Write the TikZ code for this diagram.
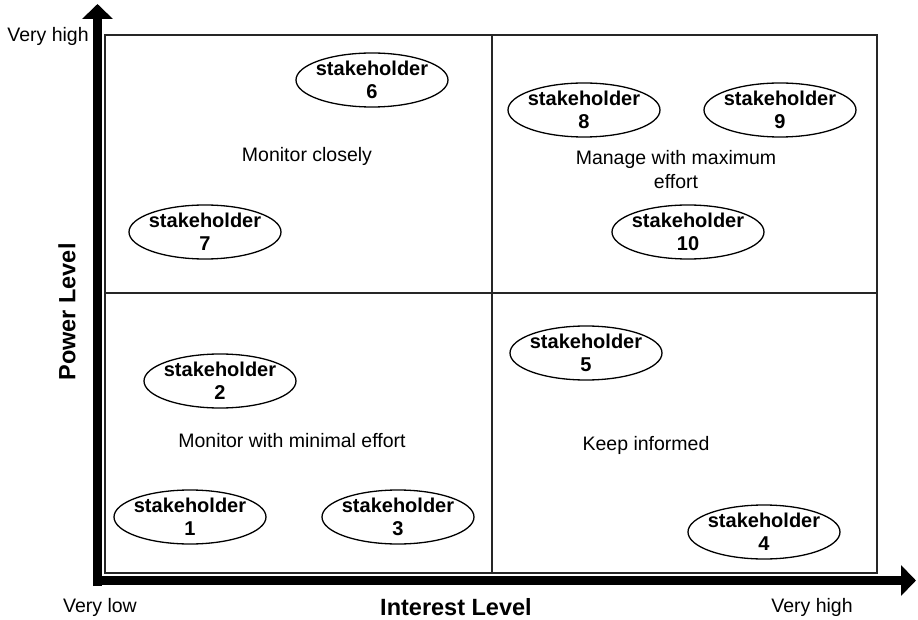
\documentclass[tikz,border=0pt]{standalone}
\usepackage{fontspec}
\setmainfont{Liberation Sans}
\usetikzlibrary{shapes.geometric,arrows.meta}
\tikzset{
  sh/.style={draw, ellipse, line width=1.3pt, minimum width=152pt, minimum height=54pt, inner xsep=-3.5pt, inner ysep=-4pt, align=center, font=\fontsize{20}{23.5}\selectfont\bfseries},
  lab/.style={font=\fontsize{19.5}{24}\selectfont, align=center, inner sep=0pt},
  axt/.style={font=\fontsize{23.5}{28}\selectfont\bfseries, inner sep=0pt},
  axis/.style={line width=9.5pt, -{Triangle[length=15pt,width=30pt]}},
  grid/.style={line width=1.6pt, draw=black!85}
}
\begin{document}
\begin{tikzpicture}[x=1pt,y=-1pt]
\useasboundingbox (0,0) rectangle (918,620);
% grid
\coordinate (tl) at (105,35);
\coordinate (br) at (877,573);
\coordinate (vt) at (492,35);
\coordinate (vb) at (492,573);
\coordinate (hl) at (105,293);
\coordinate (hr) at (877,293);
\draw[grid] (tl) rectangle (br);
\draw[grid] (vt) -- (vb);
\draw[grid] (hl) -- (hr);
% axes
\coordinate (o) at (97.5,586);
\coordinate (ytip) at (97.5,4);
\coordinate (xo) at (93,580.5);
\coordinate (xtip) at (916,580.5);
\draw[axis] (o) -- (ytip);
\draw[axis] (xo) -- (xtip);
% axis labels
\node[lab] (vh1) at (48,36) {Very high};
\node[lab] (vl) at (100,607) {Very low};
\node[lab] (vh2) at (812,607) {Very high};
\node[axt] (il) at (456,607) {Interest Level};
\node[axt, rotate=90] (pl) at (67,312) {Power Level};
% stakeholders
\node[sh] (s6) at (372,80) {stakeholder\\6};
\node[sh] (s8) at (584,110) {stakeholder\\8};
\node[sh] (s9) at (780,110) {stakeholder\\9};
\node[sh] (s7) at (205,232) {stakeholder\\7};
\node[sh] (s10) at (688,232) {stakeholder\\10};
\node[sh] (s2) at (220,381) {stakeholder\\2};
\node[sh] (s5) at (586,353) {stakeholder\\5};
\node[sh] (s1) at (190,517) {stakeholder\\1};
\node[sh] (s3) at (398,517) {stakeholder\\3};
\node[sh] (s4) at (764,532) {stakeholder\\4};
% quadrant labels
\node[lab] (q1) at (307,156) {Monitor closely};
\node[lab] (q2) at (676,170) {Manage with maximum\\effort};
\node[lab] (q3) at (292,441) {Monitor with minimal effort};
\node[lab] (q4) at (646,445) {Keep informed};
\end{tikzpicture}
\end{document}
